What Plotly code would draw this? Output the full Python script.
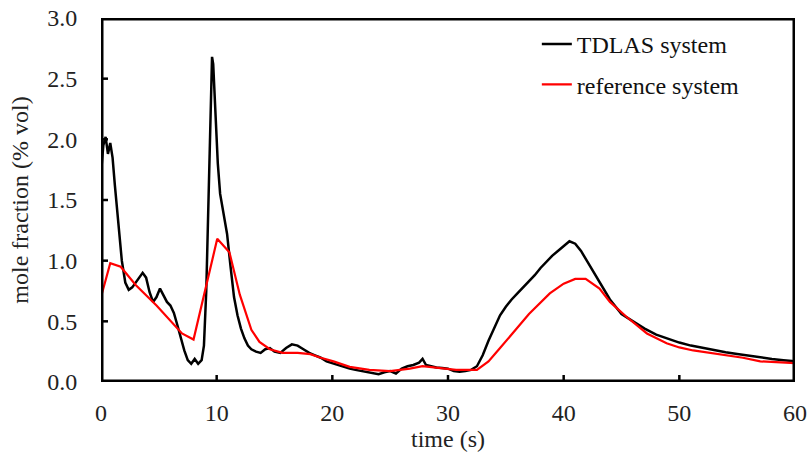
"""Mole fraction time series: TDLAS vs reference system."""
import plotly.graph_objects as go

# TDLAS system (black)
tdlas_t = [0, 0.2, 0.4, 0.6, 0.8, 1.0, 1.2, 1.5, 1.8, 2.1, 2.4, 2.7, 3.0, 3.3, 3.6, 3.9,
           4.2, 4.5, 4.8, 5.1, 5.4, 5.7, 6.0, 6.3, 6.6, 6.9, 7.2, 7.5, 7.8, 8.1, 8.4, 8.7,
           8.9, 9.1, 9.3, 9.5, 9.6, 9.7, 9.9, 10.1, 10.3, 10.6, 10.9, 11.2, 11.5, 11.8,
           12.1, 12.4, 12.7, 13.0, 13.4, 13.8, 14.2, 14.6, 15.0, 15.5, 16.0, 16.5, 17.0,
           17.5, 18.0, 18.5, 19.0, 19.5, 20.0, 20.5, 21.0, 21.5, 22.0, 22.5, 23.0, 23.5,
           24.0, 24.5, 25.0, 25.5, 26.0, 26.5, 27.0, 27.5, 27.8, 28.1, 28.5, 29.0, 29.5,
           30.0, 30.5, 31.0, 31.5, 32.0, 32.5, 33.0, 33.5, 34.0, 34.5, 35.0, 35.5, 36.0,
           36.5, 37.0, 37.5, 38.0, 38.5, 39.0, 39.5, 40.0, 40.5, 41.0, 41.5, 42.0, 42.5,
           43.0, 43.5, 44.0, 44.5, 45.0, 46, 47, 48, 49, 50, 51, 52, 53, 54, 55, 56, 57,
           58, 59, 60]
tdlas_y = [1.72, 1.95, 2.02, 1.88, 1.97, 1.85, 1.62, 1.30, 1.00, 0.82, 0.76, 0.78, 0.82,
           0.85, 0.90, 0.86, 0.74, 0.66, 0.70, 0.77, 0.72, 0.66, 0.63, 0.57, 0.47, 0.36,
           0.26, 0.18, 0.15, 0.19, 0.15, 0.18, 0.30, 0.75, 1.60, 2.50, 2.68, 2.62, 2.20,
           1.80, 1.55, 1.38, 1.22, 0.95, 0.70, 0.55, 0.44, 0.36, 0.30, 0.27, 0.25, 0.24,
           0.27, 0.28, 0.25, 0.24, 0.28, 0.31, 0.30, 0.27, 0.24, 0.22, 0.20, 0.17, 0.155,
           0.14, 0.12, 0.11, 0.10, 0.09, 0.085, 0.07, 0.065, 0.08, 0.09, 0.07, 0.11, 0.13,
           0.14, 0.16, 0.19, 0.14, 0.13, 0.12, 0.115, 0.11, 0.09, 0.085, 0.09, 0.10, 0.13,
           0.22, 0.34, 0.45, 0.55, 0.62, 0.68, 0.73, 0.78, 0.83, 0.88, 0.94, 0.99, 1.04,
           1.08, 1.12, 1.16, 1.14, 1.08, 1.00, 0.92, 0.84, 0.76, 0.68, 0.62, 0.56, 0.50,
           0.44, 0.39, 0.355, 0.325, 0.30, 0.28, 0.26, 0.245, 0.23, 0.215, 0.20, 0.19,
           0.18, 0.17]

# reference system (red)
ref_t = [0, 0.8, 1.7, 3, 4.8, 7.0, 8.0, 10.05, 11.1, 12.0, 13.0, 13.7, 14.6, 15.7, 17,
         18.1, 19, 20.1, 21.5, 23.2, 25, 26.7, 27.8, 29.6, 30.7, 32.5, 33.5, 34.5, 35.9,
         37, 38.8, 40, 41, 41.9, 43.1, 44, 45.4, 47.2, 48.9, 50, 51.2, 52.5, 54.1, 55.5,
         57, 58.5, 60]
ref_y = [0.70, 0.98, 0.95, 0.80, 0.63, 0.40, 0.35, 1.18, 1.07, 0.72, 0.43, 0.33, 0.27,
         0.24, 0.24, 0.23, 0.20, 0.17, 0.125, 0.10, 0.09, 0.11, 0.13, 0.115, 0.10, 0.10,
         0.17, 0.28, 0.44, 0.56, 0.73, 0.81, 0.85, 0.85, 0.77, 0.66, 0.54, 0.40, 0.32,
         0.285, 0.26, 0.24, 0.22, 0.20, 0.17, 0.16, 0.155]

x_ticks = [0, 10, 20, 30, 40, 50, 60]
y_ticks = [0.0, 0.5, 1.0, 1.5, 2.0, 2.5, 3.0]
X_RANGE = [0, 60]
Y_RANGE = [0, 3.0]

FONT = "Liberation Serif, Times New Roman, serif"
TXT = "#222"

fig = go.Figure()
fig.add_trace(go.Scatter(x=tdlas_t, y=tdlas_y, mode="lines", name="TDLAS system",
                         legendgroup="a", line=dict(color="black", width=2.5)))
fig.add_trace(go.Scatter(x=ref_t, y=ref_y, mode="lines", name="reference system",
                         legendgroup="b", line=dict(color="#ff0000", width=2.2)))

# frame and inward ticks as plain line traces (axis lines/shapes did not show up
# in the renderer). The frame sits on the clip edge, so only half its width shows.
x0, x1 = X_RANGE
y0, y1 = Y_RANGE
tick_dx = (x1 - x0) * 7 / 694
tick_dy = (y1 - y0) * 7 / 364
deco_x = [x0, x1, x1, x0, x0, None]
deco_y = [y0, y0, y1, y1, y0, None]
fig.add_trace(go.Scatter(x=deco_x, y=deco_y, mode="lines", showlegend=False,
                         hoverinfo="skip", line=dict(color="black", width=5)))
tx, ty = [], []
for t in x_ticks[1:-1]:
    tx += [t, t, None]
    ty += [y0, y0 + tick_dy, None]
for t in y_ticks[1:-1]:
    tx += [x0, x0 + tick_dx, None]
    ty += [t, t, None]
fig.add_trace(go.Scatter(x=tx, y=ty, mode="lines", showlegend=False,
                         hoverinfo="skip", line=dict(color="black", width=2.5)))

# tick marks are invisible spacers that push labels off the frame
axis_common = dict(showline=False, ticks="outside", tickcolor="rgba(0,0,0,0)",
                   showgrid=False, zeroline=False, automargin=False,
                   ticklabeloverflow="allow",
                   tickfont=dict(family=FONT, size=24, color=TXT))

fig.update_xaxes(range=X_RANGE, tickvals=x_ticks, ticklen=9,
                 title=dict(text="time (s)", standoff=4,
                            font=dict(family=FONT, size=24, color=TXT)),
                 **axis_common)
fig.update_yaxes(range=Y_RANGE, tickvals=y_ticks, tickformat=".1f", ticklen=18,
                 title=dict(text="mole fraction (% vol)", standoff=11,
                            font=dict(family=FONT, size=24, color=TXT)),
                 **axis_common)

fig.update_layout(
    width=808, height=466,
    margin=dict(l=101, r=13, t=18, b=84),
    plot_bgcolor="white", paper_bgcolor="white",
    font=dict(family=FONT, size=24, color=TXT),
    legend=dict(x=0.628, y=0.989, xanchor="left", yanchor="top",
                bgcolor="rgba(0,0,0,0)", font=dict(family=FONT, size=24, color="#111"),
                tracegroupgap=6, itemwidth=30),
    showlegend=True,
)

# drop the default 8px body margin so the 808x466 figure fills the window exactly
fig.write_html("out.html", config={"displayModeBar": False},
               post_script="document.body.style.margin='0';")
